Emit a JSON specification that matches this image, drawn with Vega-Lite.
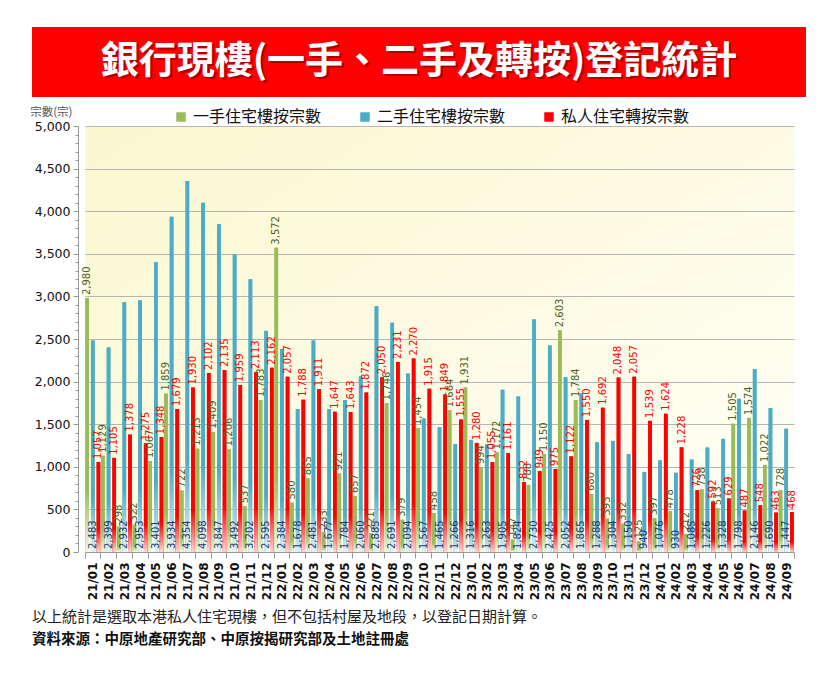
{
  "$schema": "https://vega.github.io/schema/vega-lite/v6.json",
  "padding": {"left": 29, "top": 27, "right": 20, "bottom": 10},
  "background": "white",
  "config": {"view": {"stroke": null}, "font": "Noto Sans CJK TC"},
  "datasets": {
    "d": [
      {"m": "21/01", "g": 2980, "b": 2483, "r": 1057},
      {"m": "21/02", "g": 1129, "b": 2399, "r": 1105},
      {"m": "21/03", "g": 298, "b": 2932, "r": 1378},
      {"m": "21/04", "g": 322, "b": 2953, "r": 1275},
      {"m": "21/05", "g": 1067, "b": 3401, "r": 1348},
      {"m": "21/06", "g": 1859, "b": 3934, "r": 1679},
      {"m": "21/07", "g": 722, "b": 4354, "r": 1930},
      {"m": "21/08", "g": 1213, "b": 4098, "r": 2102},
      {"m": "21/09", "g": 1409, "b": 3847, "r": 2135},
      {"m": "21/10", "g": 1206, "b": 3492, "r": 1959},
      {"m": "21/11", "g": 537, "b": 3202, "r": 2113},
      {"m": "21/12", "g": 1783, "b": 2595, "r": 2162},
      {"m": "22/01", "g": 3572, "b": 2384, "r": 2057},
      {"m": "22/02", "g": 580, "b": 1678, "r": 1788},
      {"m": "22/03", "g": 865, "b": 2481, "r": 1911},
      {"m": "22/04", "g": 233, "b": 1677, "r": 1647},
      {"m": "22/05", "g": 921, "b": 1784, "r": 1643},
      {"m": "22/06", "g": 657, "b": 2060, "r": 1872},
      {"m": "22/07", "g": 221, "b": 2885, "r": 2050},
      {"m": "22/08", "g": 1746, "b": 2691, "r": 2231},
      {"m": "22/09", "g": 379, "b": 2094, "r": 2270},
      {"m": "22/10", "g": 1454, "b": 1567, "r": 1915},
      {"m": "22/11", "g": 458, "b": 1465, "r": 1849},
      {"m": "22/12", "g": 1664, "b": 1266, "r": 1555},
      {"m": "23/01", "g": 1931, "b": 1316, "r": 1280},
      {"m": "23/02", "g": 994, "b": 1263, "r": 1055},
      {"m": "23/03", "g": 1172, "b": 1905, "r": 1161},
      {"m": "23/04", "g": 147, "b": 1824, "r": 822},
      {"m": "23/05", "g": 788, "b": 2730, "r": 949},
      {"m": "23/06", "g": 1150, "b": 2425, "r": 975},
      {"m": "23/07", "g": 2603, "b": 2052, "r": 1122},
      {"m": "23/08", "g": 1784, "b": 1865, "r": 1550},
      {"m": "23/09", "g": 680, "b": 1288, "r": 1692},
      {"m": "23/10", "g": 393, "b": 1304, "r": 2048},
      {"m": "23/11", "g": 332, "b": 1150, "r": 2057},
      {"m": "23/12", "g": 125, "b": 940, "r": 1539},
      {"m": "24/01", "g": 397, "b": 1076, "r": 1624},
      {"m": "24/02", "g": 478, "b": 930, "r": 1228},
      {"m": "24/03", "g": 212, "b": 1085, "r": 726},
      {"m": "24/04", "g": 738, "b": 1226, "r": 592},
      {"m": "24/05", "g": 513, "b": 1328, "r": 629},
      {"m": "24/06", "g": 1505, "b": 1798, "r": 487},
      {"m": "24/07", "g": 1574, "b": 2146, "r": 548},
      {"m": "24/08", "g": 1022, "b": 1690, "r": 463},
      {"m": "24/09", "g": 728, "b": 1447, "r": 468}
    ]
  },
  "title": {
    "text": "以上統計是選取本港私人住宅現樓，但不包括村屋及地段，以登記日期計算。",
    "subtitle": "資料來源：中原地產研究部、中原按揭研究部及土地註冊處",
    "orient": "bottom",
    "anchor": "start",
    "frame": "group",
    "offset": 10,
    "font": "Noto Sans CJK TC",
    "fontSize": 15,
    "fontWeight": "normal",
    "color": "#222222",
    "subtitleFont": "Noto Sans CJK TC",
    "subtitleFontSize": 14.5,
    "subtitleFontWeight": "bold",
    "subtitleColor": "#111111",
    "subtitlePadding": 8
  },
  "spacing": 9,
  "resolve": {"scale": {"color": "independent"}, "legend": {"color": "independent"}},
  "vconcat": [
    {
      "width": 774,
      "height": 70,
      "view": {"fill": "#ff0000", "stroke": null},
      "data": {"values": [{"t": "銀行現樓(一手、二手及轉按)登記統計"}]},
      "layer": [
        {
          "mark": {"type": "text", "font": "Noto Sans CJK TC", "fontSize": 38, "fontWeight": "bold", "color": "#700000", "opacity": 0.55, "dx": 2, "dy": 2, "align": "center", "baseline": "middle"},
          "encoding": {"text": {"field": "t", "type": "nominal"}}
        },
        {
          "mark": {"type": "text", "font": "Noto Sans CJK TC", "fontSize": 38, "fontWeight": "bold", "color": "#ffffff", "align": "center", "baseline": "middle"},
          "encoding": {"text": {"field": "t", "type": "nominal"}}
        }
      ]
    },
    {
      "spacing": 0,
      "resolve": {"scale": {"color": "independent", "y": "independent"}, "legend": {"color": "independent"}},
      "hconcat": [
        {
          "width": 46,
          "height": 426,
          "data": {"values": [{"z": 0}]},
          "mark": {"type": "point", "opacity": 0},
          "encoding": {
            "y": {
              "field": "z", "type": "quantitative",
              "scale": {"domain": [0, 5000], "nice": false},
              "axis": {
                "offset": -46,
                "minExtent": 0,
                "values": [0, 100, 200, 300, 400, 500, 600, 700, 800, 900, 1000, 1100, 1200, 1300, 1400, 1500, 1600, 1700, 1800, 1900, 2000, 2100, 2200, 2300, 2400, 2500, 2600, 2700, 2800, 2900, 3000, 3100, 3200, 3300, 3400, 3500, 3600, 3700, 3800, 3900, 4000, 4100, 4200, 4300, 4400, 4500, 4600, 4700, 4800, 4900, 5000],
                "labelExpr": "datum.value % 500 == 0 ? format(datum.value, ',d') : ''",
                "grid": false,
                "title": "宗數(宗)", "titleAngle": 0, "titleAlign": "right", "titleBaseline": "bottom",
                "titleX": -6, "titleY": -9, "titleFont": "Noto Sans CJK TC", "titleFontSize": 11.5, "titleFontWeight": "normal", "titleColor": "#555555",
                "labelFont": "DejaVu Sans", "labelFontSize": 12.5, "labelColor": "#111111", "labelPadding": 3,
                "domainColor": "#999999", "tickColor": "#999999",
                "tickSize": {"condition": {"test": "datum.value % 500 === 0", "value": 5}, "value": 3}
              }
            }
          }
        },
        {
          "width": 709,
          "height": 426,
          "view": {
            "fill": {"gradient": "linear", "x1": 0, "y1": 0, "x2": 1, "y2": 1, "stops": [{"offset": 0, "color": "#fbf7cf"}, {"offset": 1, "color": "#fffff8"}]},
            "stroke": null
          },
          "data": {"name": "d"},
          "transform": [{"fold": ["g", "b", "r"], "as": ["k", "v"]}],
          "encoding": {
            "x": {
              "field": "m", "type": "nominal", "sort": null,
              "scale": {"paddingInner": 0.05, "paddingOuter": 0.02},
              "axis": {
                "title": null, "labelAngle": 270, "labelAlign": "right", "labelBaseline": "middle",
                "labelFont": "DejaVu Sans", "labelFontWeight": "bold", "labelFontSize": 12, "labelColor": "#111111",
                "labelPadding": 4, "tickBand": "extent", "tickSize": 6, "tickColor": "#999999", "domainColor": "#999999", "grid": false
              }
            },
            "xOffset": {"field": "k", "type": "nominal", "sort": ["g", "b", "r"], "scale": {"domain": ["g", "b", "r"], "paddingInner": 0.35}}
          },
          "layer": [
            {
              "mark": {"type": "bar"},
              "encoding": {
                "y": {
                  "field": "v", "type": "quantitative",
                  "scale": {"domain": [0, 5000], "nice": false},
                  "axis": {
                    "values": [0, 500, 1000, 1500, 2000, 2500, 3000, 3500, 4000, 4500, 5000],
                    "title": null, "labels": false, "ticks": false, "domain": false, "minExtent": 0, "maxExtent": 0,
                    "gridColor": "#b5b5b5"
                  }
                },
                "color": {
                  "field": "k", "type": "nominal",
                  "scale": {"domain": ["g", "b", "r"], "range": ["#9bbb59", "#4bacc6", "#ff0000"]},
                  "legend": {
                    "title": null, "orient": "none", "legendX": 88, "legendY": -17, "direction": "horizontal",
                    "symbolType": "square", "symbolSize": 90, "symbolStrokeWidth": 0,
                    "labelFont": "Noto Sans CJK TC", "labelFontSize": 16, "labelColor": "#111111", "columnPadding": 35,
                    "labelExpr": "datum.label == 'g' ? '一手住宅樓按宗數' : datum.label == 'b' ? '二手住宅樓按宗數' : '私人住宅轉按宗數'"
                  }
                }
              }
            },
            {
              "transform": [{"filter": "datum.k == 'g'"}],
              "mark": {"type": "bar", "fill": {"gradient": "linear", "x1": 0, "y1": 0, "x2": 0, "y2": 1, "stops": [{"offset": 0, "color": "#9bbb59"}, {"offset": 0.75, "color": "#9bbb59"}, {"offset": 1, "color": "#f3f7e6"}]}},
              "encoding": {"y": {"field": "v", "type": "quantitative"}}
            },
            {
              "transform": [{"filter": "datum.k == 'b'"}],
              "mark": {"type": "bar", "fill": {"gradient": "linear", "x1": 0, "y1": 0, "x2": 0, "y2": 1, "stops": [{"offset": 0, "color": "#4bacc6"}, {"offset": 0.75, "color": "#4bacc6"}, {"offset": 1, "color": "#e6f4f9"}]}},
              "encoding": {"y": {"field": "v", "type": "quantitative"}}
            },
            {
              "transform": [{"filter": "datum.k == 'r'"}],
              "mark": {"type": "bar", "fill": {"gradient": "linear", "x1": 0, "y1": 0, "x2": 0, "y2": 1, "stops": [{"offset": 0, "color": "#ff0000"}, {"offset": 0.75, "color": "#ff0000"}, {"offset": 1, "color": "#ffd6d6"}]}},
              "encoding": {"y": {"field": "v", "type": "quantitative"}}
            },
            {
              "transform": [{"filter": "datum.k == 'g'"}],
              "mark": {"type": "text", "angle": 270, "align": "left", "baseline": "middle", "dx": 3, "font": "DejaVu Sans", "fontSize": 10, "fill": "#4f6228"},
              "encoding": {"y": {"field": "v", "type": "quantitative"}, "text": {"field": "v", "type": "quantitative", "format": ","}}
            },
            {
              "transform": [{"filter": "datum.k == 'r'"}],
              "mark": {"type": "text", "angle": 270, "align": "left", "baseline": "middle", "dx": 3, "font": "DejaVu Sans", "fontSize": 10, "fill": "#ff0000"},
              "encoding": {"y": {"field": "v", "type": "quantitative"}, "text": {"field": "v", "type": "quantitative", "format": ","}}
            },
            {
              "transform": [{"filter": "datum.k == 'b'"}],
              "mark": {"type": "text", "angle": 270, "align": "left", "baseline": "middle", "dx": 3, "font": "DejaVu Sans", "fontSize": 10, "fill": "#1f3a6e"},
              "encoding": {"y": {"datum": 0, "type": "quantitative"}, "text": {"field": "v", "type": "quantitative", "format": ","}}
            }
          ]
        }
      ]
    }
  ]
}
